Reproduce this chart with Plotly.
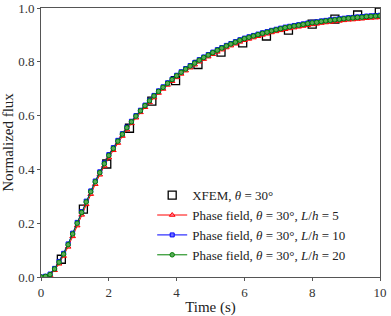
import plotly.graph_objects as go

time_pf = [0.000, 0.133, 0.267, 0.400, 0.533, 0.667, 0.800, 0.933, 1.067, 1.200,
           1.333, 1.467, 1.600, 1.733, 1.867, 2.000, 2.133, 2.267, 2.400, 2.533,
           2.667, 2.800, 2.933, 3.067, 3.200, 3.333, 3.467, 3.600, 3.733, 3.867,
           4.000, 4.133, 4.267, 4.400, 4.533, 4.667, 4.800, 4.933, 5.067, 5.200,
           5.333, 5.467, 5.600, 5.733, 5.867, 6.000, 6.133, 6.267, 6.400, 6.533,
           6.667, 6.800, 6.933, 7.067, 7.200, 7.333, 7.467, 7.600, 7.733, 7.867,
           8.000, 8.133, 8.267, 8.400, 8.533, 8.667, 8.800, 8.933, 9.067, 9.200,
           9.333, 9.467, 9.600, 9.733, 9.867, 10.000]

flux_lh5 = [0.000, 0.001, 0.006, 0.025, 0.049, 0.078, 0.112, 0.151, 0.191, 0.231,
            0.270, 0.308, 0.345, 0.380, 0.413, 0.444, 0.471, 0.498, 0.524, 0.548,
            0.571, 0.592, 0.612, 0.631, 0.649, 0.667, 0.684, 0.699, 0.714, 0.728,
            0.742, 0.755, 0.767, 0.778, 0.789, 0.800, 0.810, 0.819, 0.828, 0.837,
            0.845, 0.853, 0.860, 0.867, 0.874, 0.880, 0.885, 0.890, 0.895, 0.900,
            0.904, 0.909, 0.913, 0.917, 0.921, 0.924, 0.927, 0.930, 0.933, 0.936,
            0.939, 0.941, 0.944, 0.946, 0.948, 0.950, 0.952, 0.954, 0.956, 0.957,
            0.959, 0.960, 0.962, 0.963, 0.964, 0.965]

flux_lh10 = [0.000, 0.003, 0.011, 0.032, 0.058, 0.088, 0.123, 0.163, 0.203, 0.243,
             0.282, 0.320, 0.357, 0.391, 0.424, 0.455, 0.481, 0.508, 0.533, 0.557,
             0.579, 0.600, 0.620, 0.639, 0.657, 0.675, 0.692, 0.707, 0.722, 0.736,
             0.750, 0.763, 0.775, 0.786, 0.797, 0.808, 0.818, 0.827, 0.836, 0.845,
             0.853, 0.861, 0.868, 0.875, 0.882, 0.888, 0.893, 0.898, 0.903, 0.908,
             0.912, 0.917, 0.921, 0.925, 0.929, 0.932, 0.935, 0.938, 0.941, 0.944,
             0.947, 0.949, 0.952, 0.954, 0.956, 0.958, 0.960, 0.962, 0.964, 0.965,
             0.967, 0.968, 0.970, 0.971, 0.972, 0.973]

flux_lh20 = [0.000, 0.002, 0.009, 0.030, 0.055, 0.085, 0.120, 0.160, 0.200, 0.240,
             0.279, 0.317, 0.354, 0.388, 0.421, 0.452, 0.478, 0.505, 0.531, 0.555,
             0.577, 0.598, 0.618, 0.637, 0.655, 0.673, 0.690, 0.705, 0.720, 0.734,
             0.748, 0.761, 0.773, 0.784, 0.795, 0.806, 0.816, 0.825, 0.834, 0.843,
             0.851, 0.859, 0.866, 0.873, 0.880, 0.886, 0.891, 0.896, 0.901, 0.906,
             0.910, 0.915, 0.919, 0.923, 0.927, 0.930, 0.933, 0.936, 0.939, 0.942,
             0.945, 0.947, 0.950, 0.952, 0.954, 0.956, 0.958, 0.960, 0.962, 0.963,
             0.965, 0.966, 0.968, 0.969, 0.970, 0.971]

time_xfem = [0.60, 1.25, 1.94, 2.61, 3.27, 3.97, 4.63, 5.31, 5.95, 6.65,
             7.30, 8.00, 8.67, 9.34, 9.98]
flux_xfem = [0.066, 0.252, 0.420, 0.553, 0.654, 0.730, 0.790, 0.836, 0.870, 0.896,
             0.918, 0.940, 0.959, 0.974, 0.985]

x_ticks = [0, 2, 4, 6, 8, 10]
y_ticks = [0.0, 0.2, 0.4, 0.6, 0.8, 1.0]

FONT = "Liberation Serif, Times New Roman, serif"

fig = go.Figure()
fig.add_trace(go.Scatter(
    x=time_xfem, y=flux_xfem, mode="markers",
    name="XFEM, <i>θ</i> = 30°",
    marker=dict(symbol="square-open", size=8, color="black", line=dict(width=1.3)),
))
fig.add_trace(go.Scatter(
    x=time_pf, y=flux_lh5, mode="lines+markers",
    name="Phase field, <i>θ</i> = 30°, <i>L</i>/<i>h</i> = 5",
    line=dict(color="#ff0000", width=1),
    marker=dict(symbol="triangle-up", size=5, color="rgba(255,120,150,0.9)",
                line=dict(color="#ff0000", width=1)),
))
fig.add_trace(go.Scatter(
    x=time_pf, y=flux_lh10, mode="lines+markers",
    name="Phase field, <i>θ</i> = 30°, <i>L</i>/<i>h</i> = 10",
    line=dict(color="#0000ff", width=1),
    marker=dict(symbol="square", size=4, color="rgba(110,110,255,0.9)",
                line=dict(color="#0000ff", width=1)),
))
fig.add_trace(go.Scatter(
    x=time_pf, y=flux_lh20, mode="lines+markers",
    name="Phase field, <i>θ</i> = 30°, <i>L</i>/<i>h</i> = 20",
    line=dict(color="#008000", width=1),
    marker=dict(symbol="circle", size=4.5, color="rgba(90,170,90,1)",
                line=dict(color="#008000", width=1)),
))

axis_common = dict(
    showline=True, linecolor="#555555", linewidth=1, mirror=True,
    ticks="outside", ticklen=3, tickcolor="#555555", tickwidth=1,
    showgrid=False, zeroline=False, automargin=False,
    tickfont=dict(family=FONT, size=13, color="#333333"),
)

fig.update_layout(
    width=391, height=316,
    margin=dict(l=41, r=11, t=8, b=39),
    paper_bgcolor="white", plot_bgcolor="white",
    font=dict(family=FONT, color="#222222"),
    xaxis=dict(range=[0, 10], tickvals=x_ticks,
               title=dict(text="Time (s)", font=dict(family=FONT, size=15)),
               **axis_common),
    yaxis=dict(range=[0, 1], tickvals=y_ticks, tickformat=".1f",
               title=dict(text="Normalized flux", font=dict(family=FONT, size=15)),
               **axis_common),
    legend=dict(x=0.328, y=0.36, xanchor="left", yanchor="top",
                bgcolor="rgba(255,255,255,0)", borderwidth=0,
                font=dict(family=FONT, size=13, color="#222222"),
                tracegroupgap=0, itemwidth=30),
    showlegend=True,
)

fig.write_html(
    "out.html",
    config={"displayModeBar": False},
    post_script="document.body.style.margin='0';document.body.style.padding='0';",
)
